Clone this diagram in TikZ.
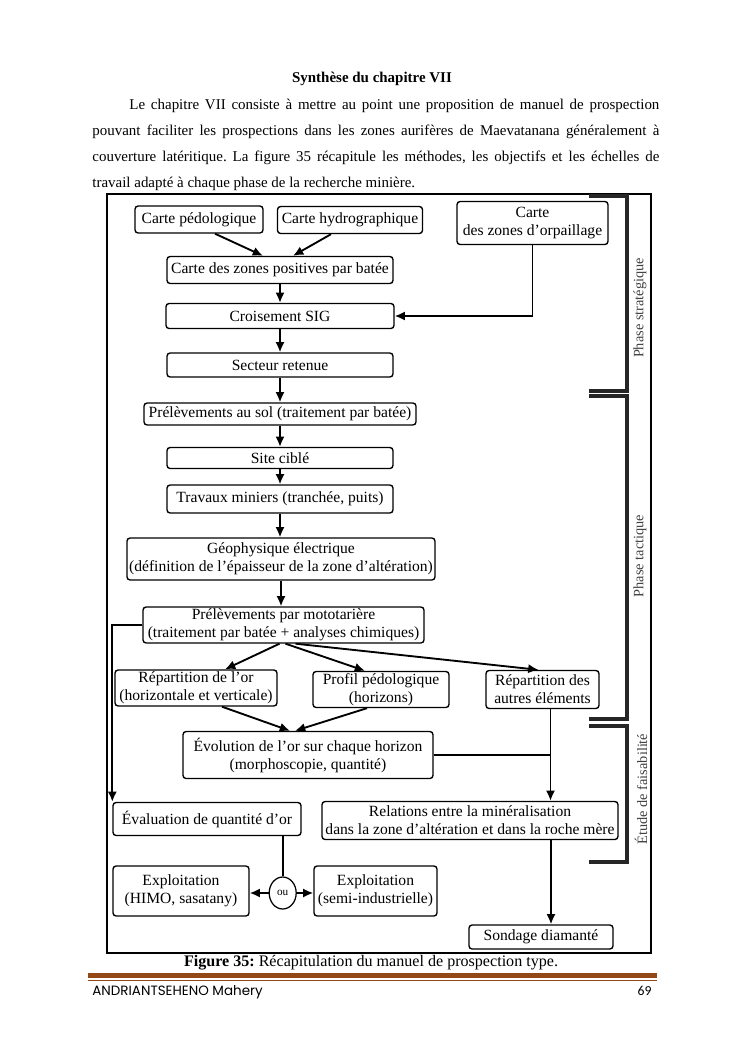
\documentclass[tikz,border=0pt]{standalone}
\usepackage{fontspec}
\setmainfont{Liberation Serif}
\newfontfamily\footfont{Poppins}
\newfontfamily\numfont{Carlito}
\usetikzlibrary{arrows,arrows.meta,positioning,shapes,calc}
\newlength{\pxu}
\setlength{\pxu}{0.2819mm}
\definecolor{rulebrown}{RGB}{148,72,22}
\frenchspacing
\tikzset{
    box/.style={draw, line width=1.1pt, rounded corners=2.5pt, inner sep=0pt, align=center, font=\fontsize{12.5}{14.4}\selectfont},
    arr/.style={-{Latex[length=2.9mm, width=2.6mm]}, line width=1.5pt},
    lnk/.style={line width=1.5pt},
    brak/.style={line width=3pt, draw=black!85},
    side/.style={rotate=90, font=\fontsize{11.5}{13}\selectfont, text=black!75}
}

\begin{document}
\begin{tikzpicture}[x=0.2819mm, y=-0.2819mm, font=\fontsize{12}{14}\selectfont]
        \useasboundingbox (0,0) rectangle (745,1053);

        % Text above the figure
        \node[anchor=base, font=\fontsize{12}{14}\selectfont\bfseries] (titre) at (372,82) {Synthèse du chapitre VII};
        \node[anchor=base west] (l1) at (125,109) {\makebox[530\pxu][s]{Le chapitre VII consiste à mettre au point une proposition de manuel de prospection}};
        \node[anchor=base west] (l2) at (88,135) {\makebox[567\pxu][s]{pouvant faciliter les prospections dans les zones aurifères de Maevatanana généralement à}};
        \node[anchor=base west] (l3) at (88,161) {\makebox[567\pxu][s]{couverture latéritique. La figure 35 récapitule les méthodes, les objectifs et les échelles de}};
        \node[anchor=base west] (l4) at (88,187) {travail adapté à chaque phase de la recherche minière.};

        % Frame and phases
        \draw[line width=1.6pt] (107,194) rectangle (651,953);
        \draw[brak] (589,196) -- (627,196) -- (627,391) -- (589,391);
        \draw[brak] (589,396) -- (627,396) -- (627,719) -- (589,719);
        \draw[brak] (589,726) -- (627,726) -- (627,862) -- (589,862);
        \node[side] (lstrat) at (640,308) {Phase stratégique};
        \node[side] (ltact) at (640,556) {Phase tactique};
        \node[side] (letude) at (641,789) {Étude de faisabilité};

        % Strategic phase
        \node[box, minimum width=128\pxu, minimum height=27\pxu] (pedo) at (199,219.5) {Carte pédologique};
        \node[box, minimum width=145\pxu, minimum height=27\pxu] (hydro) at (350,220) {Carte hydrographique};
        \node[box, minimum width=151\pxu, minimum height=43\pxu] (orpail) at (532.5,223) {Carte\\des zones d’orpaillage};
        \node[box, minimum width=226\pxu, minimum height=27\pxu] (positive) at (280,270) {Carte des zones positives par batée};
        \node[box, minimum width=228\pxu, minimum height=25\pxu] (sig) at (280,316) {Croisement SIG};
        \node[box, minimum width=226\pxu, minimum height=24\pxu] (secteur) at (280,365) {Secteur retenue};

        % Tactical phase
        \node[box, minimum width=272\pxu, minimum height=22\pxu] (sol) at (280,414) {Prélèvements au sol (traitement par batée)};
        \node[box, minimum width=226\pxu, minimum height=21\pxu] (site) at (280,458) {Site ciblé};
        \node[box, minimum width=226\pxu, minimum height=28\pxu] (travaux) at (280,499) {Travaux miniers (tranchée, puits)};
        \node[box, minimum width=308\pxu, minimum height=42\pxu] (geophy) at (281,559) {Géophysique électrique\\(définition de l’épaisseur de la zone d’altération)};
        \node[box, minimum width=281\pxu, minimum height=36\pxu] (moto) at (283.5,625) {Prélèvements par mototarière\\(traitement par batée + analyses chimiques)};
        \node[box, minimum width=162\pxu, minimum height=36\pxu] (repor) at (196,688) {Répartition de l’or\\(horizontale et verticale)};
        \node[box, minimum width=136\pxu, minimum height=36\pxu] (profil) at (381,689.5) {Profil pédologique\\(horizons)};
        \node[box, minimum width=113\pxu, minimum height=38\pxu] (repaut) at (542.5,689.5) {Répartition des\\autres éléments};

        % Feasibility
        \node[box, minimum width=250\pxu, minimum height=47\pxu] (evol) at (308,755) {Évolution de l’or sur chaque horizon\\(morphoscopie, quantité)};
        \node[box, minimum width=296\pxu, minimum height=38\pxu] (relat) at (470,820.5) {Relations entre la minéralisation\\dans la zone d’altération et dans la roche mère};
        \node[box, minimum width=188\pxu, minimum height=33\pxu] (evalu) at (207,819) {Évaluation de quantité d’or};
        \node[box, minimum width=136\pxu, minimum height=50\pxu] (himo) at (181,891) {Exploitation\\(HIMO, sasatany)};
        \node[draw, ellipse, line width=1pt, minimum width=27\pxu, minimum height=32\pxu, inner sep=0pt, font=\small] (ou) at (282.7,893) {ou};
        \node[box, minimum width=123\pxu, minimum height=50\pxu] (semi) at (375.5,891) {Exploitation\\(semi-industrielle)};
        \node[box, minimum width=144\pxu, minimum height=24\pxu] (sondage) at (541,937) {Sondage diamanté};

        % Connectors
        \draw[arr] ([xshift=16\pxu]pedo.south) -- ([xshift=-17\pxu]positive.north);
        \draw[arr] ([xshift=-19\pxu]hydro.south) -- ([xshift=13\pxu]positive.north);
        \draw[arr] (orpail.south) |- (sig.east);
        \foreach \a/\b in {positive/sig, sig/secteur, secteur/sol, sol/site, site/travaux, travaux/geophy, geophy/moto}
            \draw[arr] (\a.south) -- (\a.south |- \b.north);
        \draw[arr] ([xshift=-4\pxu]moto.south) -- ([xshift=29\pxu]repor.north);
        \draw[arr] ([xshift=2\pxu]moto.south) -- ([xshift=-16\pxu]profil.north);
        \draw[arr] ([xshift=12\pxu]moto.south) -- ([xshift=-4\pxu]repaut.north);
        \draw[arr] (moto.west) -| (evalu.north west);
        \draw[arr] ([xshift=26\pxu]repor.south) -- ([xshift=-18\pxu]evol.north);
        \draw[arr] ([xshift=-14\pxu]profil.south) -- ([xshift=-13\pxu]evol.north);
        \coordinate (joint) at ([xshift=8\pxu]repaut.south |- evol.east);
        \draw[lnk] (evol.east) -- (joint);
        \draw[arr] ([xshift=8\pxu]repaut.south) -- ([xshift=8\pxu]repaut.south |- relat.north);
        \draw[arr] ([xshift=81\pxu]relat.south) -- ([xshift=81\pxu]relat.south |- sondage.north);
        \draw[lnk] (evalu.south -| ou.north) -- (ou.north);
        \draw[arr] (ou.west) -- (ou.west -| himo.east);
        \draw[arr] (ou.east) -- (ou.east -| semi.west);

        % Caption and footer
        \node[font=\fontsize{12.9}{15}\selectfont] (caption) at (371,963) {\textbf{Figure 35:} Récapitulation du manuel de prospection type.};
        \draw[rulebrown, line width=3.4pt] (88,975.5) -- (657,975.5);
        \draw[rulebrown, line width=0.7pt] (88,980.5) -- (657,980.5);
        \node[anchor=base west, font=\footfont\fontsize{10.8}{12}\selectfont] (auteur) at (88,995) {ANDRIANTSEHENO Mahery};
        \node[anchor=base east, font=\numfont\fontsize{11}{13}\selectfont] (pagenum) at (656,995) {69};
\end{tikzpicture}
\end{document}
